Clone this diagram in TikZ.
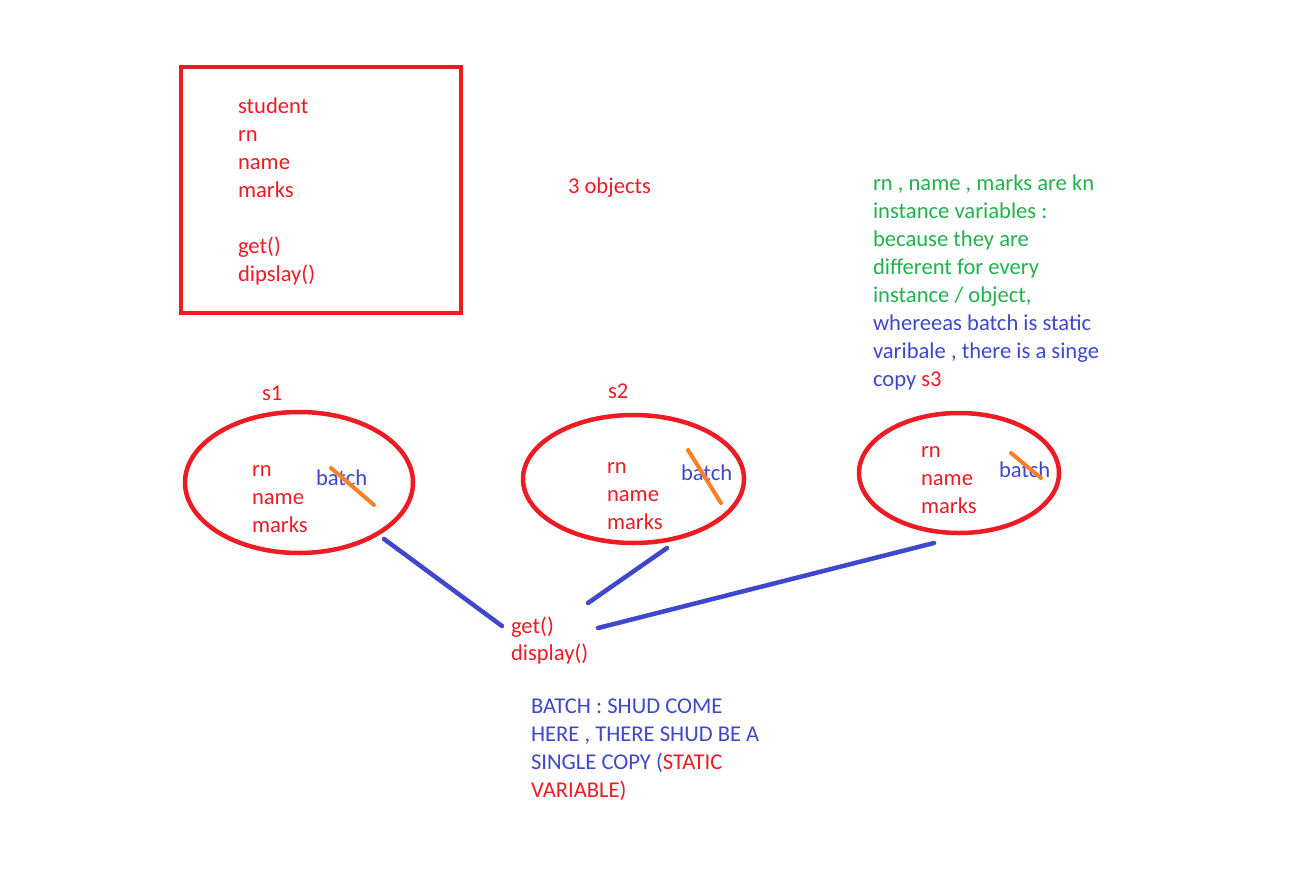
\documentclass[tikz,border=0pt]{standalone}
\usepackage{fontspec}
\setmainfont{Carlito}
\usetikzlibrary{shapes.geometric}
\definecolor{pred}{RGB}{237,28,36}
\definecolor{pblue}{RGB}{63,72,204}
\definecolor{pgreen}{RGB}{34,177,76}
\definecolor{porange}{RGB}{255,127,39}
\newcommand\calsz{\fontsize{22.6}{28}\selectfont}
\tikzset{
  txt/.style={anchor=base west, inner sep=0pt, outer sep=0pt, font=\calsz},
  rtxt/.style={txt, text=pred},
  btxt/.style={txt, text=pblue},
  gtxt/.style={txt, text=pgreen},
  obj/.style={draw=pred, line width=4.5pt, ellipse, inner sep=0pt},
  link/.style={draw=pblue, line width=4.5pt, line cap=round},
  strike/.style={draw=porange, line width=4pt, line cap=round},
}
\begin{document}
\begin{tikzpicture}[x=1pt,y=-1pt]
\path[fill=white] (0,0) rectangle (1292,870);
\useasboundingbox (0,0) rectangle (1292,870);

% class box
\node[draw=pred, line width=4.5pt, minimum width=280pt, minimum height=246pt, inner sep=0pt, outer sep=0pt, anchor=north west] (cls) at (181,67) {};
\node[rtxt] (cstudent) at (238,113) {student};
\node[rtxt] (crn) at (238,141) {rn};
\node[rtxt] (cname) at (238,169) {name};
\node[rtxt] (cmarks) at (238,197) {marks};
\node[rtxt] (cget) at (238,253) {get()};
\node[rtxt] (cdisp) at (238,281) {dipslay()};

\node[rtxt] (three) at (568,193) {3 objects};

% note
\node[gtxt] (n1) at (873,190) {rn , name , marks are kn};
\node[gtxt] (n2) at (873,218) {instance variables :};
\node[gtxt] (n3) at (873,246) {because they are};
\node[gtxt] (n4) at (873,274) {different for every};
\node[gtxt] (n5) at (873,302) {instance / object,};
\node[btxt] (n6) at (873,330) {whereeas batch is static};
\node[btxt] (n7) at (873,358) {varibale , there is a singe};
\node[btxt] (n8) at (873,386) {copy \textcolor{pred}{s3}};

% objects
\node[rtxt] (s1) at (262,400) {s1};
\node[rtxt] (s2) at (608,398) {s2};

\node[obj, minimum width=228pt, minimum height=141pt] (e1) at (299,482.5) {};
\node[obj, minimum width=221pt, minimum height=128pt] (e2) at (633.5,479) {};
\node[obj, minimum width=200pt, minimum height=120pt] (e3) at (959,473) {};

\node[rtxt] (e1rn) at (252,476) {rn};
\node[rtxt] (e1name) at (252,504) {name};
\node[rtxt] (e1marks) at (252,532) {marks};
\node[btxt] (e1batch) at (316,485) {batch};

\node[rtxt] (e2rn) at (607,473) {rn};
\node[rtxt] (e2name) at (607,501) {name};
\node[rtxt] (e2marks) at (607,529) {marks};
\node[btxt] (e2batch) at (681,480) {batch};

\node[rtxt] (e3rn) at (921,457) {rn};
\node[rtxt] (e3name) at (921,485) {name};
\node[rtxt] (e3marks) at (921,513) {marks};
\node[btxt] (e3batch) at (999,477) {batch};

% strike-throughs
\coordinate (k1a) at (331,468); \coordinate (k1b) at (374,505);
\coordinate (k2a) at (688,450); \coordinate (k2b) at (721,503);
\coordinate (k3a) at (1011,453); \coordinate (k3b) at (1041,478);
\draw[strike] (k1a) -- (k1b);
\draw[strike] (k2a) -- (k2b);
\draw[strike] (k3a) -- (k3b);

% methods
\node[rtxt] (mget) at (511,633) {get()};
\node[rtxt] (mdisp) at (511,660) {display()};

% links
\coordinate (l1a) at (384,539); \coordinate (l1b) at (502,626);
\coordinate (l2a) at (667,548); \coordinate (l2b) at (588,603);
\coordinate (l3a) at (934,543); \coordinate (l3b) at (598,628);
\draw[link] (l1a) -- (l1b);
\draw[link] (l2a) -- (l2b);
\draw[link] (l3a) -- (l3b);

% batch note
\node[btxt] (b1) at (531,713) {BATCH : SHUD COME};
\node[btxt] (b2) at (531,741) {HERE , THERE SHUD BE A};
\node[btxt] (b3) at (531,769) {SINGLE COPY (\textcolor{pred}{STATIC}};
\node[rtxt] (b4) at (531,797) {VARIABLE)};
\end{tikzpicture}
\end{document}
